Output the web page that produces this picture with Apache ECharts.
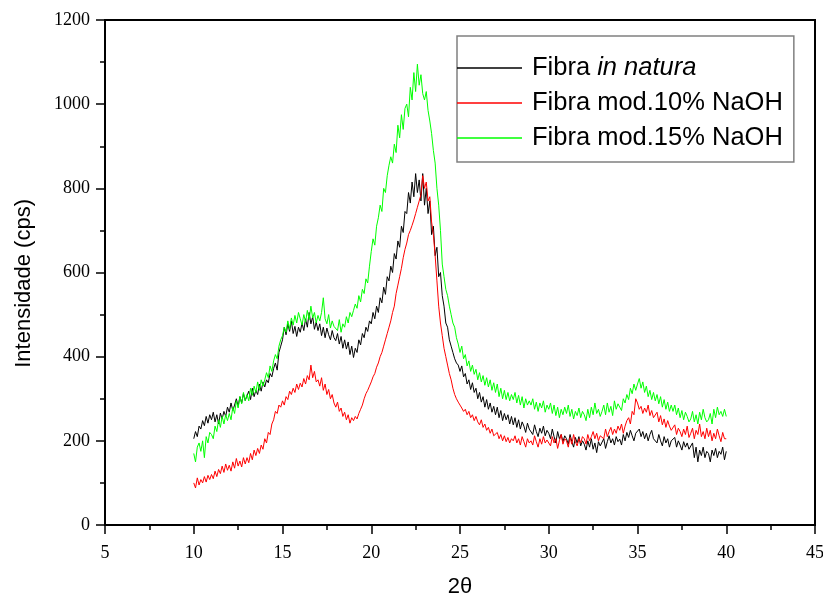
<!DOCTYPE html>
<html>
<head>
<meta charset="utf-8">
<script src="https://cdn.jsdelivr.net/npm/echarts@6/dist/echarts.min.js"></script>
<style>
html,body{margin:0;padding:0;background:#fff;}
#chart{width:823px;height:599px;}
</style>
</head>
<body>
<div id="chart"></div>
<script>
// 2θ sampling: from 10 to 40 in steps of 0.1
const xStart = 10;
const xStep = 0.1;

const seriesNames = ['Fibra in natura', 'Fibra mod.10% NaOH', 'Fibra mod.15% NaOH'];
const seriesColors = ['#000000', '#ff0000', '#00ff00'];

const fibraNatura = [
205,222,210,235,228,248,236,258,242,262,
250,268,245,262,240,266,252,270,258,280,
268,290,272,285,300,282,305,290,312,296,
300,318,298,325,305,320,310,335,318,340,
328,345,338,360,352,372,385,368,410,425,
440,470,452,478,460,485,455,472,448,470,
458,480,462,490,470,505,478,495,465,482,
462,478,450,470,445,468,452,440,462,445,
438,455,430,448,420,440,418,435,405,425,
398,420,410,440,428,455,445,470,460,485,
478,505,490,520,505,540,528,565,548,590,
580,615,600,645,632,675,660,710,695,745,
740,790,765,815,780,835,790,820,770,835,
760,800,740,770,690,710,640,660,590,600,
545,520,480,470,440,425,410,395,385,380,
365,378,352,360,335,345,322,338,315,325,
300,315,292,305,280,298,275,290,268,282,
262,280,255,272,248,265,250,262,240,258,
238,255,232,250,228,245,235,220,242,228,
232,215,238,222,210,230,218,235,212,225,
218,205,228,210,195,222,205,215,198,212,
205,192,215,198,185,208,195,210,188,200,
192,178,200,185,205,180,195,172,198,188,
190,205,182,198,212,195,205,190,210,198,
204,190,215,200,220,208,225,212,200,218,
216,228,210,222,205,218,200,215,225,205,
206,195,215,200,188,210,195,205,185,200,
196,208,185,200,190,178,198,185,195,180,
180,195,160,185,150,178,165,185,160,175,
170,150,178,165,182,160,175,168,185,155,
175];

const fibraMod10 = [
100,88,112,95,108,100,115,102,118,108,
120,110,128,115,132,122,140,125,145,130,
142,128,150,135,158,140,152,138,160,145,
160,148,170,155,178,165,182,170,190,180,
205,195,220,215,240,250,270,265,285,280,
295,285,305,298,318,310,325,315,335,322,
337,328,348,335,355,345,380,350,365,340,
345,330,350,320,335,310,322,300,310,290,
280,292,270,278,258,268,250,262,242,255,
248,258,252,265,275,285,300,312,320,330,
340,352,360,375,385,400,410,425,440,455,
470,485,505,520,550,570,590,610,635,655,
670,690,700,712,725,740,755,770,785,830,
800,815,770,780,720,690,640,580,520,480,
450,420,400,380,360,345,325,310,300,292,
285,278,270,275,262,270,255,262,248,258,
245,238,250,232,240,225,232,218,228,212,
210,220,205,215,200,212,198,208,195,205,
200,212,195,205,190,210,198,185,205,195,
200,190,212,198,185,205,192,210,195,202,
200,188,210,195,205,182,200,215,192,205,
200,185,208,192,215,198,188,205,195,210,
205,192,215,200,210,222,205,218,200,212,
215,205,228,210,222,232,215,228,218,235,
225,240,218,235,248,255,240,270,262,300,
290,275,282,265,278,268,285,260,272,255,
255,268,245,260,238,252,232,248,235,225,
225,238,215,230,222,210,228,215,235,208,
218,230,205,225,215,240,210,222,205,230,
210,225,200,218,205,228,212,198,220,205,
205];

const fibraMod15 = [
170,150,185,195,175,200,160,210,195,220,
215,205,235,222,250,232,258,240,262,248,
265,250,280,265,295,278,305,288,315,295,
310,295,325,308,330,315,340,320,345,330,
345,362,350,378,365,390,405,395,425,440,
450,470,458,485,465,492,475,498,480,505,
490,475,500,482,510,488,520,492,505,480,
498,485,505,540,490,478,500,468,485,472,
475,462,488,458,478,470,495,480,505,495,
510,525,515,545,530,560,550,585,575,615,
650,680,665,710,730,760,745,800,790,830,
855,875,860,905,885,950,920,975,940,990,
1000,970,1040,1010,1075,1030,1095,1045,1070,1025,
1010,1030,985,960,930,890,860,800,760,700,
620,590,560,545,520,500,480,470,445,430,
410,425,395,405,378,390,365,380,358,370,
345,362,340,355,332,350,328,345,320,338,
315,335,305,325,300,320,298,315,295,310,
298,315,290,308,285,305,278,300,285,295,
285,300,275,292,270,290,278,295,268,285,
275,290,265,285,260,280,255,275,262,280,
265,285,258,275,252,270,260,278,255,270,
262,248,275,255,280,262,290,265,275,258,
270,285,262,290,268,282,260,295,275,288,
285,272,300,290,310,298,325,312,335,320,
335,348,325,340,315,330,305,320,298,315,
295,310,288,305,280,298,275,292,270,285,
270,285,262,278,255,272,250,268,258,245,
252,270,245,262,240,268,250,275,255,245,
250,265,240,275,255,280,262,270,258,275,
258];

const xMin = 5, xMax = 45, xInterval = 5;
const yMin = 0, yMax = 1200, yInterval = 200;

function toPairs(vals) {
  return vals.map((v, i) => [Math.round((xStart + i * xStep) * 10) / 10, v]);
}

const allValues = [fibraNatura, fibraMod10, fibraMod15];

const chart = echarts.init(document.getElementById('chart'), null, {renderer: 'canvas'});

const tickFont = {fontFamily: '"Liberation Serif", "Times New Roman", serif', fontSize: 18, color: '#000'};
const plainFmt = function (v) { return String(v); };

const option = {
  animation: false,
  backgroundColor: '#fff',
  grid: {left: 105, right: 8, top: 20, bottom: 74, containLabel: false, outerBoundsMode: 'none', show: true, borderColor: '#000', borderWidth: 2, backgroundColor: 'transparent'},
  legend: {
    orient: 'vertical',
    left: 457,
    top: 36,
    data: seriesNames.map((n, k) => ({name: n, itemStyle: {color: seriesColors[k]}})),
    icon: 'rect',
    itemWidth: 65,
    itemHeight: 1.5,
    itemGap: 9,
    padding: [19, 11, 11, 0],
    borderColor: '#808080',
    borderWidth: 1.5,
    backgroundColor: '#fff',
    selectedMode: false,
    formatter: function (name) {
      if (name === 'Fibra in natura') return '{n|Fibra }{i|in natura}';
      return '{n|' + name + '}';
    },
    textStyle: {
      padding: [0, 0, 0, 5],
      fontFamily: '"Liberation Sans", Arial, sans-serif',
      fontSize: 25.5,
      lineHeight: 25,
      color: '#000',
      rich: {
        n: {fontFamily: '"Liberation Sans", Arial, sans-serif', fontSize: 25.5, lineHeight: 25, color: '#000'},
        i: {fontFamily: '"Liberation Sans", Arial, sans-serif', fontSize: 25.5, lineHeight: 25, fontStyle: 'italic', color: '#000'}
      }
    }
  },
  xAxis: {
    type: 'value',
    min: xMin, max: xMax, interval: xInterval,
    name: '2θ',
    nameLocation: 'middle',
    nameGap: 51,
    nameTextStyle: {fontFamily: '"Liberation Sans", Arial, sans-serif', fontSize: 22, color: '#000'},
    axisLine: {show: true, onZero: false, lineStyle: {color: '#000', width: 2}},
    axisTick: {show: true, inside: false, length: 9, lineStyle: {color: '#000', width: 1.5}},
    minorTick: {show: true, splitNumber: 2, length: 5, lineStyle: {color: '#000', width: 1.5}},
    axisLabel: Object.assign({margin: 19, formatter: plainFmt}, tickFont),
    splitLine: {show: false}
  },
  yAxis: {
    type: 'value',
    min: yMin, max: yMax, interval: yInterval,
    axisLine: {show: true, onZero: false, lineStyle: {color: '#000', width: 2}},
    axisTick: {show: true, inside: false, length: 9, lineStyle: {color: '#000', width: 1.5}},
    minorTick: {show: true, splitNumber: 2, length: 5, lineStyle: {color: '#000', width: 1.5}},
    axisLabel: Object.assign({margin: 15, formatter: plainFmt}, tickFont),
    splitLine: {show: false}
  },
  graphic: [{
    type: 'text',
    left: 13,
    top: 199,
    rotation: Math.PI / 2,
    style: {
      text: 'Intensidade (cps)',
      fontFamily: '"Liberation Sans", Arial, sans-serif',
      fontSize: 22,
      fill: '#000'
    }
  }],
  series: seriesNames.map((name, k) => ({
    name: name,
    type: 'line',
    data: toPairs(allValues[k]),
    showSymbol: false,
    symbol: 'none',
    lineStyle: {color: seriesColors[k], width: 1},
    itemStyle: {color: seriesColors[k]},
    z: 2 + k
  }))
};

chart.setOption(option);
</script>
</body>
</html>
